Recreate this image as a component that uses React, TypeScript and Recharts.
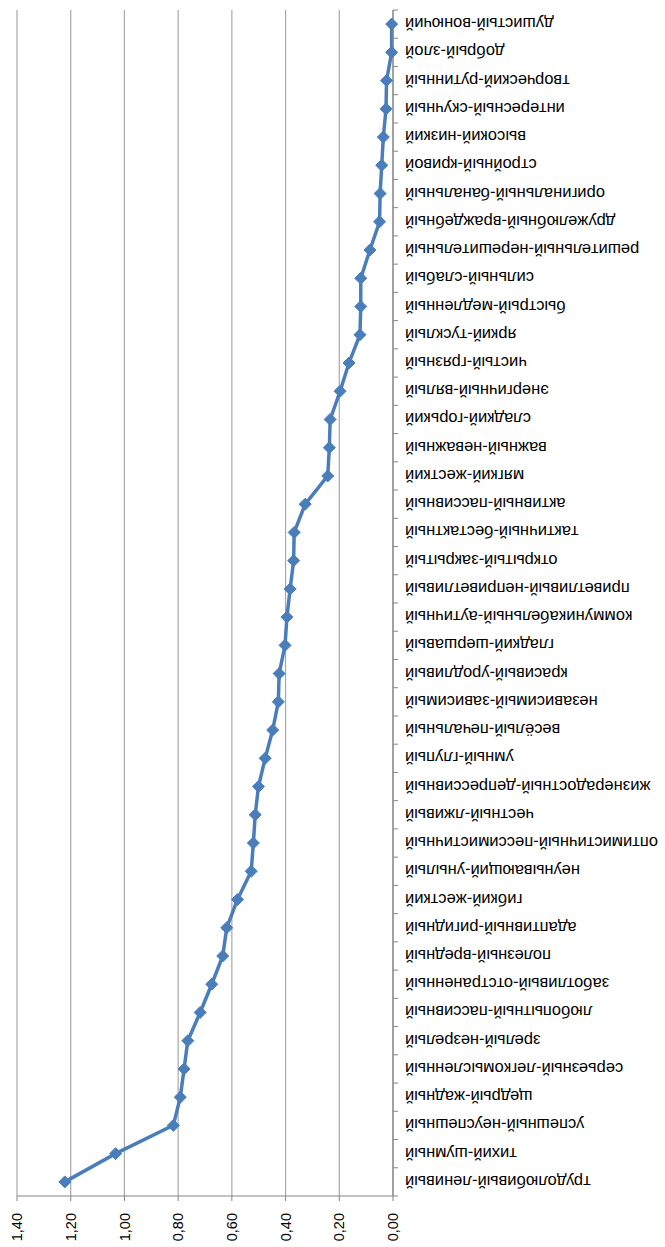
import React from "react";
import { LineChart, Line, XAxis, YAxis, CartesianGrid } from "recharts";

// categories, left to right in the unrotated chart (bottom to top on screen)
const categories: string[] = [
  "трудолюбивый-ленивый",
  "тихий-шумный",
  "успешный-неуспешный",
  "щедрый-жадный",
  "серьезный-легкомысленный",
  "зрелый-незрелый",
  "любопытный-пассивный",
  "заботливый-отстраненный",
  "полезный-вредный",
  "адаптивный-ригидный",
  "гибкий-жесткий",
  "неунывающий-унылый",
  "оптимистичный-пессимистичный",
  "честный-лживый",
  "жизнерадостный-депрессивный",
  "умный-глупый",
  "весёлый-печальный",
  "независимый-зависимый",
  "красивый-уродливый",
  "гладкий-шершавый",
  "коммуникабельный-аутичный",
  "приветливый-неприветливый",
  "открытый-закрытый",
  "тактичный-бестактный",
  "активный-пассивный",
  "мягкий-жесткий",
  "важный-неважный",
  "сладкий-горький",
  "энергичный-вялый",
  "чистый-грязный",
  "яркий-тусклый",
  "быстрый-медленный",
  "сильный-слабый",
  "решительный-нерешительный",
  "дружелюбный-враждебный",
  "оригинальный-банальный",
  "стройный-кривой",
  "высокий-низкий",
  "интересный-скучный",
  "творческий-рутинный",
  "добрый-злой",
  "душистый-вонючий",
];

const values: number[] = [
  1.222, 1.033, 0.818, 0.792, 0.778, 0.764, 0.718, 0.675, 0.634, 0.619,
  0.579, 0.528, 0.52, 0.513, 0.501, 0.476, 0.448, 0.427, 0.424, 0.402,
  0.395, 0.383, 0.37, 0.368, 0.327, 0.243, 0.237, 0.234, 0.197, 0.164,
  0.123, 0.12, 0.12, 0.086, 0.05, 0.048, 0.042, 0.036, 0.026, 0.024,
  0.005, 0.005,
];

const valueTicks: number[] = [0, 0.2, 0.4, 0.6, 0.8, 1.0, 1.2, 1.4];

const data = categories.map((name, i) => ({ x: i + 0.5, name, v: values[i] }));
// boundary ticks at integers, label ticks at half steps
const catTicks: number[] = [];
for (let i = 0; i <= categories.length * 2; i++) catTicks.push(i / 2);

const blue = "#4A7EBB";
const axisColor = "#868686";
const gridColor = "#A8A8A8";
const font = "'Liberation Sans', Arial, sans-serif";

const CategoryTick = (props: any) => {
  const { x, y, payload } = props;
  const v = payload.value;
  if (Number.isInteger(v)) {
    return <line x1={x} y1={y} x2={x} y2={y + 5} stroke={axisColor} />;
  }
  const ty = y + 12;
  return (
    <text
      x={x}
      y={ty}
      transform={`rotate(-90, ${x}, ${ty})`}
      textAnchor="end"
      dominantBaseline="central"
      fontSize={16.5}
      fontFamily={font}
      fill="#000"
    >
      {categories[Math.floor(v)]}
    </text>
  );
};

const Diamond = (props: any) => {
  const { cx, cy } = props;
  const r = 6;
  return (
    <polygon
      points={`${cx},${cy - r} ${cx + r},${cy} ${cx},${cy + r} ${cx - r},${cy}`}
      fill={blue}
      stroke={blue}
    />
  );
};

export default function App() {
  return (
    <div
      style={{
        position: "absolute",
        left: 0,
        top: 0,
        width: 665,
        height: 1247,
        overflow: "hidden",
        background: "#fff",
      }}
    >
      <div
        style={{
          width: 1247,
          height: 665,
          transformOrigin: "0 0",
          transform: "translateY(1247px) rotate(-90deg)",
        }}
      >
        <LineChart
          width={1247}
          height={665}
          data={data}
          margin={{ top: 17, right: 10, left: 0, bottom: 0 }}
        >
          <CartesianGrid vertical={false} stroke={gridColor} strokeWidth={1.2} />
          <XAxis
            dataKey="x"
            type="number"
            domain={[0, categories.length]}
            ticks={catTicks}
            interval={0}
            tickSize={0}
            tickMargin={0}
            tickLine={false}
            tick={<CategoryTick />}
            axisLine={{ stroke: axisColor, strokeWidth: 1.2 }}
            height={272}
          />
          <YAxis
            type="number"
            domain={[0, 1.4]}
            ticks={valueTicks}
            interval={0}
            width={51}
            tickSize={5}
            tickMargin={12}
            axisLine={{ stroke: axisColor, strokeWidth: 1.2 }}
            tickLine={{ stroke: axisColor }}
            tick={{ fill: "#000", fontSize: 14.5, fontFamily: font }}
            tickFormatter={(v: number) => v.toFixed(2).replace(".", ",")}
          />
          <Line
            type="linear"
            dataKey="v"
            stroke={blue}
            strokeWidth={3.5}
            dot={<Diamond />}
            activeDot={false}
            isAnimationActive={false}
          />
        </LineChart>
      </div>
    </div>
  );
}
